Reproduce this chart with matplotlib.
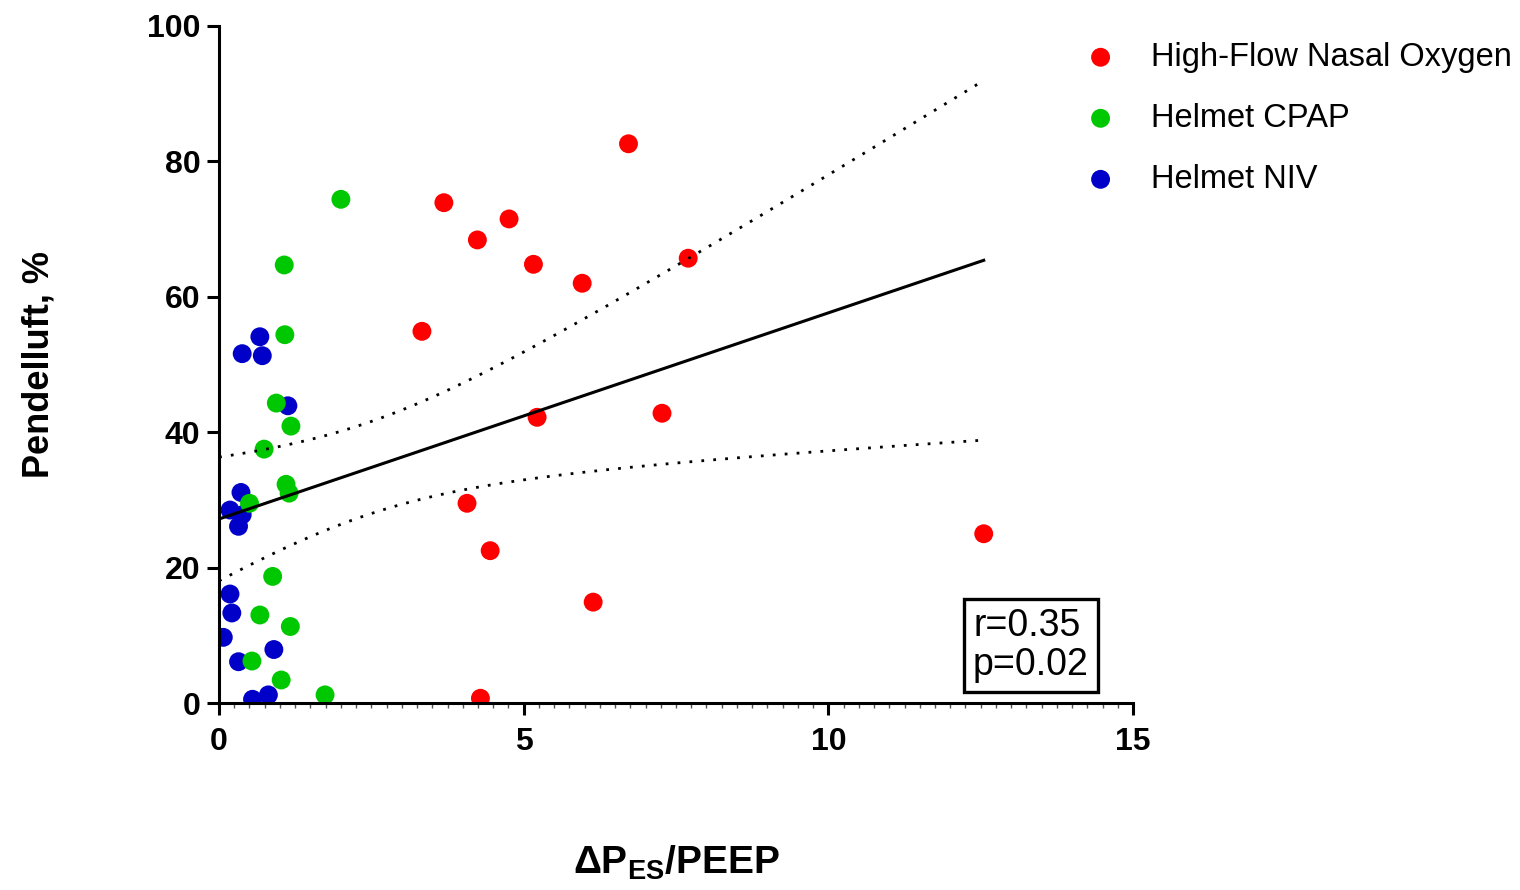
import numpy as np
import matplotlib
matplotlib.use('Agg')
import matplotlib.pyplot as plt

plt.rcParams['font.family'] = ['Liberation Sans', 'DejaVu Sans']
plt.rcParams['mathtext.fontset'] = 'custom'
plt.rcParams['mathtext.rm'] = 'Liberation Sans'
plt.rcParams['mathtext.bf'] = 'Liberation Sans:bold'

# data (dPes/PEEP, pendelluft %)
hfno_x = [6.72, 3.69, 4.76, 4.24, 5.16, 5.96, 7.70, 3.33, 5.22, 7.27,
          4.07, 4.45, 6.14, 4.29, 12.55]
hfno_y = [82.6, 73.9, 71.5, 68.4, 64.8, 62.0, 65.7, 54.9, 42.2, 42.8,
          29.5, 22.5, 14.9, 0.7, 25.0]

cpap_x = [2.00, 1.07, 1.08, 0.94, 1.18, 0.74, 1.10, 1.15, 0.50, 0.88,
          0.67, 1.17, 0.54, 1.02, 1.74]
cpap_y = [74.4, 64.7, 54.4, 44.3, 40.9, 37.5, 32.3, 31.0, 29.5, 18.7,
          13.0, 11.3, 6.2, 3.4, 1.2]

niv_x = [0.67, 0.38, 0.71, 1.13, 0.36, 0.18, 0.38, 0.32, 0.18, 0.21,
         0.07, 0.90, 0.32, 0.55, 0.81]
niv_y = [54.1, 51.6, 51.3, 43.9, 31.1, 28.5, 27.8, 26.1, 16.1, 13.3,
         9.7, 7.9, 6.1, 0.55, 1.2]

labels = ['High-Flow Nasal Oxygen', 'Helmet CPAP', 'Helmet NIV']
colors = ['#ff0000', '#00c800', '#0000c8']
stats_text = 'r=0.35\np=0.02'

fig = plt.figure(figsize=(15.2, 8.9), dpi=100)
ax = fig.add_axes([0.1441, 0.2101, 0.6013, 0.7607])

groups = [(niv_x, niv_y, 2), (cpap_x, cpap_y, 1), (hfno_x, hfno_y, 0)]
handles = {}
for gx, gy, i in groups:
    handles[i] = ax.scatter(gx, gy, s=185, color=colors[i], edgecolors='none',
                            label=labels[i], zorder=2)

# linear fit with 95% confidence band
x_all = np.array(hfno_x + cpap_x + niv_x)
y_all = np.array(hfno_y + cpap_y + niv_y)
n = len(x_all)
slope, icpt = np.polyfit(x_all, y_all, 1)
res = y_all - (slope * x_all + icpt)
s_err = np.sqrt(np.sum(res ** 2) / (n - 2))
sxx = np.sum((x_all - x_all.mean()) ** 2)
t_crit = 2.017
xf = np.linspace(0, x_all.max(), 200)
yf = slope * xf + icpt
ci = t_crit * s_err * np.sqrt(1.0 / n + (xf - x_all.mean()) ** 2 / sxx)
ax.plot(xf, yf, color='black', lw=2.2, zorder=3)
ax.plot(xf, yf + ci, color='black', lw=2.0, ls=(0, (1, 3.3)), zorder=3)
ax.plot(xf, yf - ci, color='black', lw=2.0, ls=(0, (1, 3.3)), zorder=3)

ax.set_xlim(0, 15)
ax.set_ylim(0, 100)
ax.set_xticks([0, 5, 10, 15])
ax.set_xticks(np.arange(0, 15.01, 0.25), minor=True)
ax.set_yticks([0, 20, 40, 60, 80, 100])
for sp in ['top', 'right']:
    ax.spines[sp].set_visible(False)
for sp in ['left', 'bottom']:
    ax.spines[sp].set_linewidth(2.2)
ax.tick_params(which='major', length=8.5, width=2.2, labelsize=23, pad=5)
ax.tick_params(axis='x', which='major', pad=9)
ax.tick_params(axis='x', which='minor', length=3.5, width=1, color='#555555')
for lab in ax.get_xticklabels() + ax.get_yticklabels():
    lab.set_fontweight('bold')

ax.set_xlabel(r'ΔP$_\mathbf{ES}$/PEEP', fontsize=28, fontweight='bold')
ax.xaxis.set_label_coords(0.5, -0.208)
ax.set_ylabel('Pendelluft, %', fontsize=26, fontweight='bold')
ax.yaxis.set_label_coords(-0.178, 0.5)

ax.text(0.825, 0.03, stats_text, transform=ax.transAxes, fontsize=27,
        va='bottom', ha='left', linespacing=1.1,
        bbox=dict(boxstyle='square,pad=0.25', fc='white', ec='black', lw=2.4))

fig.legend([handles[0], handles[1], handles[2]], labels,
           loc='upper left', bbox_to_anchor=(0.694, 0.986), frameon=False,
           fontsize=23.5, handlelength=1.0, handletextpad=1.05,
           labelspacing=0.92, scatterpoints=1, markerscale=1.0)

plt.savefig('out.png', dpi=100)
